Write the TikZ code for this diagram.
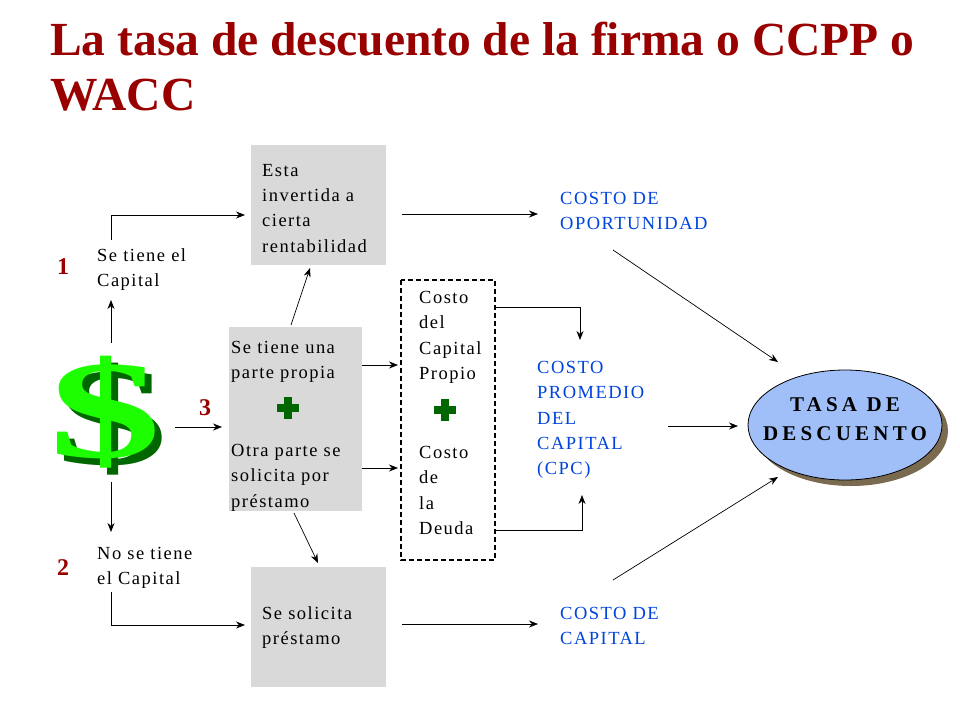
\documentclass[tikz,border=0pt]{standalone}
\usepackage{fontspec}
\setmainfont{Liberation Serif}
\newfontfamily\spaced[LetterSpace=8]{Liberation Serif}
\newfontfamily\wide[LetterSpace=20]{Liberation Serif}
\usetikzlibrary{arrows.meta}
\definecolor{tred}{HTML}{990000}
\definecolor{tblue}{HTML}{0044DD}
\definecolor{gbox}{HTML}{D9D9D9}
\definecolor{dgreen}{HTML}{006600}
\begin{document}
\begin{tikzpicture}[x=1pt,y=-1pt,
  txt/.style={font=\spaced\fontsize{18.5}{25.3}\selectfont,align=left,inner sep=0,anchor=north west},
  btxt/.style={txt,text=tblue},
  num/.style={font=\bfseries\fontsize{24}{24}\selectfont,text=tred,inner sep=0},
  gray/.style={fill=gbox,draw=none},
  arr/.style={-{Stealth[length=9pt,width=7pt]},line width=0.7pt}]
\useasboundingbox (0,0) rectangle (960,720);
\node[anchor=west,inner sep=0,text=tred,font=\bfseries\fontsize{47.5}{55}\selectfont,align=left] (title) at (50,67) {La tasa de descuento de la firma o CCPP o\\WACC};
% boxes
\fill[gray] (251,145) rectangle (386,265);
\node[txt] (b1t) at (262,164) {Esta\\invertida a\\cierta\\rentabilidad};
\fill[gray] (229,327) rectangle (362,511);
\node[txt] (b2a) at (231,341) {Se tiene una\\parte propia};
\node[txt] (b2b) at (231,444) {Otra parte se\\solicita por\\préstamo};
\fill[gray] (251,567) rectangle (386,687);
\node[txt] (b3t) at (262,606) {Se solicita\\préstamo};
\draw[dash pattern=on 5pt off 3pt,line width=1.1pt] (401,280) rectangle (495,560);
\node[txt] (d1) at (419,291) {Costo\\del\\Capital\\Propio};
\node[txt] (d2) at (419,446) {Costo\\de\\la\\Deuda};
% plus signs
\foreach \n/\px/\py in {p1/288/408,p2/445/410}{
 \fill[dgreen] (\px-4,\py-11) rectangle (\px+4,\py+11);
 \fill[dgreen] (\px-11,\py-4) rectangle (\px+11,\py+4);
 \coordinate (\n) at (\px,\py);}
% side texts
\node[txt] (s1) at (97,248) {Se tiene el\\Capital};
\node[txt] (s2) at (97,547) {No se tiene\\el Capital};
\node[num] (n1) at (63,267) {1};
\node[num] (n2) at (63,568) {2};
\node[num] (n3) at (205,408) {3};
\node[btxt] (co) at (560,192) {COSTO DE\\OPORTUNIDAD};
\node[btxt] (cpc) at (537,361) {COSTO\\PROMEDIO\\DEL\\CAPITAL\\(CPC)};
\node[btxt] (cc) at (560,607) {COSTO DE\\CAPITAL};
% ellipse
\fill[fill={rgb,255:red,122;green,106;blue,80}] (851,431) ellipse (97 and 55);
\draw[fill={rgb,255:red,160;green,191;blue,248},line width=0.8pt] (845,425) ellipse (97 and 55);
\node[font=\wide\bfseries\fontsize{21}{29}\selectfont,align=center,inner sep=0] (tasa) at (845,419) {TASA DE\\DESCUENTO};
% dollar
\node[font=\bfseries\fontsize{140}{140}\selectfont,text=dgreen,inner sep=0,xscale=1.6] (dol2) at (112,419) {\$};
\node[font=\bfseries\fontsize{140}{140}\selectfont,text=green!85!lime,inner sep=0,xscale=1.6] (dol) at (105,412) {\$};
% connectors
\draw[arr] (111,343) -- (111,300);
\draw[arr] (111,240) -- (111,215) -- (245,215);
\draw[arr] (111,482) -- (111,532);
\draw[arr] (111,592) -- (111,625) -- (245,625);
\draw[arr] (175,427) -- (222,427);
\draw[arr] (291,325) -- (310,268);
\draw[arr] (294,513) -- (318,563);
\draw[arr] (402,214) -- (538,214);
\draw[arr] (402,624) -- (538,624);
\draw[arr] (362,365) -- (398,365);
\draw[arr] (362,468) -- (398,468);
\draw[arr] (495,307) -- (580,307) -- (580,340);
\draw[arr] (495,530) -- (582,530) -- (582,495);
\draw[arr] (668,426) -- (738,426);
\draw[arr] (613,250) -- (778,362);
\draw[arr] (613,580) -- (778,477);
\end{tikzpicture}
\end{document}
